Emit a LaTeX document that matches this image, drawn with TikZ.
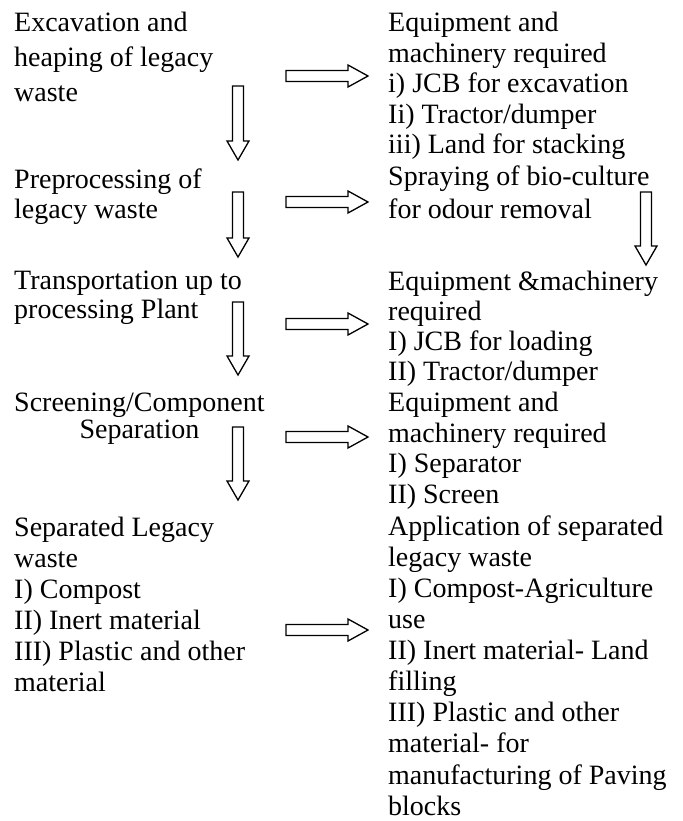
\documentclass[tikz,border=0pt]{standalone}
\usepackage{fontspec}
\setmainfont{Liberation Serif}
\usetikzlibrary{calc}

\tikzset{
  blockarrow/.style={draw=black,fill=white,line width=1.3pt,line join=miter},
  textblock/.style={anchor=north west,inner sep=0pt,align=left,font=\fontsize{28}{#1}\selectfont},
}
% strut fixing the top of each text block 21 above the first baseline
\newcommand\fl{\rule{0pt}{21pt}}
% hollow block arrows, drawn from a named coordinate
\newcommand\rightarr[1]{\draw[blockarrow] (#1) ++(0,-5.5) -- ++(62,0) -- ++(0,-5.5) -- ++(20,11) -- ++(-20,11) -- ++(0,-5.5) -- ++(-62,0) -- cycle;}
\newcommand\downarr[2]{\draw[blockarrow] (#1) ++(-5.5,0) -- ++(0,{#2-19}) -- ++(-5.5,0) -- ++(11,19) -- ++(11,-19) -- ++(-5.5,0) -- ++(0,{19-#2}) -- cycle;}

\begin{document}
\begin{tikzpicture}[x=1pt,y=-1pt]
	\useasboundingbox (0,0) rectangle (682,821);
	% left column
	\node[textblock=34.6] (excav) at (14,10.7) {\fl Excavation and\\heaping of legacy\\waste};
	\node[textblock=30] (prepro) at (14,167.3) {\fl Preprocessing of\\legacy waste};
	\node[textblock=29] (transp) at (14,268.3) {\fl Transportation up to\\processing Plant};
	\node[textblock=26.6,align=center] (screen) at (14,390.7) {\fl Screening/Component\\Separation};
	\node[textblock=31.1] (separ) at (14,515) {\fl Separated Legacy\\waste\\I) Compost\\II) Inert material\\III) Plastic and other\\material};
	% right column
	\node[textblock=30.4] (equip1) at (388,10.7) {\fl Equipment and\\machinery required\\i) JCB for excavation\\Ii) Tractor/dumper\\iii) Land for stacking};
	\node[textblock=32.5] (spray) at (388,164.5) {\fl Spraying of bio-culture\\for odour removal};
	\node[textblock=30] (equip2) at (388,269) {\fl Equipment \&machinery\\required\\I) JCB for loading\\II) Tractor/dumper};
	\node[textblock=30.5] (equip3) at (388,390.7) {\fl Equipment and\\machinery required\\I) Separator\\II) Screen};
	\node[textblock=31.1] (appl) at (388,514) {\fl Application of separated\\legacy waste\\I) Compost-Agriculture\\use\\II) Inert material- Land\\filling\\III) Plastic and other\\material- for\\manufacturing of Paving\\blocks};
	% arrow anchors
	\coordinate (d1) at (238,86);
	\coordinate (d2) at (238,192);
	\coordinate (d3) at (238,302);
	\coordinate (d4) at (238,427);
	\coordinate (d5) at (646,192);
	\coordinate (r1) at (286,76);
	\coordinate (r2) at (286,202);
	\coordinate (r3) at (286,324);
	\coordinate (r4) at (286,437);
	\coordinate (r5) at (286,630);
	\downarr{d1}{74}
	\downarr{d2}{65}
	\downarr{d3}{73}
	\downarr{d4}{73}
	\downarr{d5}{73}
	\rightarr{r1}
	\rightarr{r2}
	\rightarr{r3}
	\rightarr{r4}
	\rightarr{r5}
\end{tikzpicture}
\end{document}
